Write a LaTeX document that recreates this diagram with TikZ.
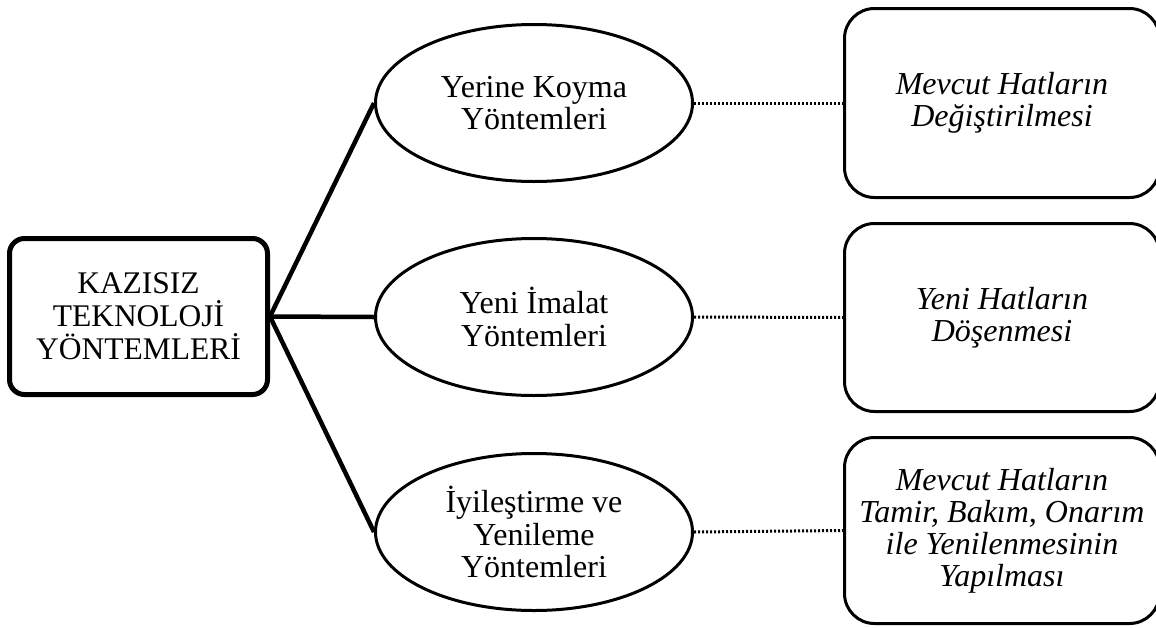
\documentclass[tikz,border=0pt]{standalone}
\usepackage{fontspec}
\setmainfont{Liberation Serif}
\usetikzlibrary{shapes.geometric}
\tikzset{
  mainbox/.style={draw, line width=5pt, rounded corners=15pt, inner sep=0pt,
    minimum width=258pt, minimum height=156pt, align=center,
    font=\fontsize{31.5}{33}\selectfont},
  method/.style={draw, ellipse, line width=3pt, inner sep=0pt,
    minimum width=317pt, minimum height=157pt, align=center,
    font=\fontsize{32}{32.5}\selectfont},
  result/.style={draw, line width=3pt, rounded corners=30pt, inner sep=0pt,
    minimum width=315pt, align=center,
    font=\fontsize{32}{32}\selectfont\itshape},
  branch/.style={line width=4.5pt},
  dotline/.style={line width=3pt, dash pattern=on 2pt off 2pt}
}
\begin{document}
\begin{tikzpicture}[x=1pt,y=-1pt]
\useasboundingbox (0,0) rectangle (1156,627);
\clip (0,0) rectangle (1156,627);
\node[mainbox] (kt) at (138.5,316.5) {KAZISIZ\\TEKNOLOJİ\\YÖNTEMLERİ};
\node[method] (e1) at (534,103) {Yerine Koyma\\Yöntemleri};
\node[method] (e2) at (534,317) {Yeni İmalat\\Yöntemleri};
\node[method] (e3) at (534,532) {İyileştirme ve\\Yenileme\\Yöntemleri};
\node[result, minimum height=189pt] (r1) at (1002,103) {Mevcut Hatların\\Değiştirilmesi};
\node[result, minimum height=188pt] (r2) at (1002,317.5) {Yeni Hatların\\Döşenmesi};
\node[result, minimum height=186pt] (r3) at (1002,530.5) {Mevcut Hatların\\Tamir, Bakım, Onarım\\ile Yenilenmesinin\\Yapılması};
\draw[branch] (kt.east) -- (e1.west);
\draw[branch] (kt.east) -- (e2.west);
\draw[branch] (kt.east) -- (e3.west);
\draw[dotline] (e1.east) -- (r1.west);
\draw[dotline] (e2.east) -- (r2.west);
\draw[dotline] (e3.east) -- (r3.west);
\end{tikzpicture}
\end{document}
